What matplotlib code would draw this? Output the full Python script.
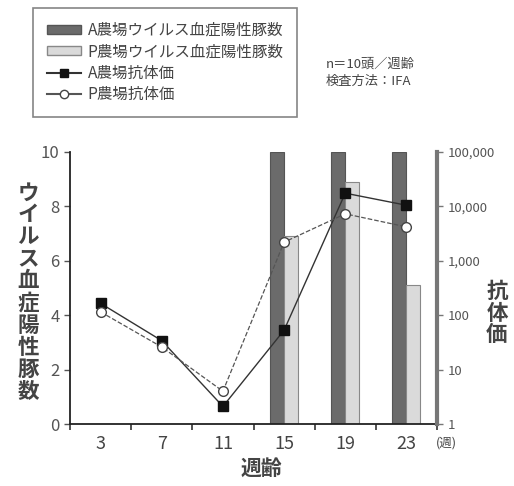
import matplotlib
matplotlib.use('Agg')
import matplotlib.pyplot as plt
from matplotlib.patches import Patch
from matplotlib.lines import Line2D
from matplotlib.ticker import FixedLocator, FuncFormatter
import numpy as np

plt.rcParams['font.family'] = ['Noto Sans CJK JP', 'DejaVu Sans']
plt.rcParams['text.color'] = '#444444'

# データ
weeks = ['3', '7', '11', '15', '19', '23']
a_viremia = [0, 0, 0, 10, 10, 10]        # A農場ウイルス血症陽性豚数
p_viremia = [0, 0, 0, 6.9, 8.9, 5.1]     # P農場ウイルス血症陽性豚数
a_titer = [165, 34, 2.1, 53, 17500, 10500]   # A農場抗体価
p_titer = [115, 26, 4, 2200, 7300, 4200]     # P農場抗体価
titer_ticks = [1, 10, 100, 1000, 10000, 100000]

fig = plt.figure(figsize=(5.14, 4.86), dpi=100)
ax = fig.add_axes([70 / 514, 62 / 486, 367 / 514, 272 / 486])
ax2 = ax.twinx()

x = np.arange(len(weeks))
w = 0.23
ax.bar(x - w / 2, a_viremia, w, color='#6b6b6b', edgecolor='#555555', linewidth=0.8)
ax.bar(x + w / 2, p_viremia, w, color='#dadada', edgecolor='#888888', linewidth=0.8)

ax2.plot(x, a_titer, '-', color='#333333', lw=1.0, marker='s', ms=7,
         mfc='#111111', mec='#111111')
ax2.plot(x, p_titer, '--', color='#555555', lw=0.9, marker='o', ms=7,
         mfc='white', mec='#444444', mew=1.0)

ax.set_xlim(-0.5, len(weeks) - 0.5)
ax.set_ylim(0, 10)
ax.set_yticks([0, 2, 4, 6, 8, 10])
ax2.set_yscale('log')
ax2.set_ylim(1, 100000)
ax2.yaxis.set_major_locator(FixedLocator(titer_ticks))
ax2.yaxis.set_minor_locator(FixedLocator([]))
ax2.yaxis.set_major_formatter(FuncFormatter(lambda v, p: '{:,}'.format(int(round(v)))))

ax.set_xticks(x)
ax.set_xticklabels(weeks)
ax.set_xticks(np.arange(-0.5, len(weeks)), minor=True)
ax.tick_params(axis='x', which='major', length=0, labelsize=13, pad=8, labelcolor='#444444')
ax.tick_params(axis='x', which='minor', length=4, width=1.2, direction='out', color='#333333')
ax.tick_params(axis='y', length=4, width=1, color='#555555', labelsize=12, labelcolor='#555555')
ax2.tick_params(axis='y', length=4, width=1, color='#777777', labelsize=9.5, labelcolor='#555555')

for s in ['top', 'right']:
    ax.spines[s].set_visible(False)
for s in ['top', 'left', 'bottom']:
    ax2.spines[s].set_visible(False)
ax.spines['left'].set_linewidth(1.3)
ax.spines['bottom'].set_linewidth(1.3)
ax.spines['left'].set_color('#222222')
ax.spines['bottom'].set_color('#222222')
ax2.spines['right'].set_linewidth(3)
ax2.spines['right'].set_color('#777777')

# 軸ラベル（縦書き）
fig.text(28 / 514, 1 - 292 / 486, '\n'.join('ウイルス血症陽性豚数'), ha='center', va='center',
         fontsize=15.5, fontweight='bold', linespacing=1.06, color='#444444')
fig.text(497 / 514, 1 - 313 / 486, '\n'.join('抗体価'), ha='center', va='center',
         fontsize=15.5, fontweight='bold', linespacing=1.02, color='#444444')
fig.text(261 / 514, 1 - 468 / 486, '週齢', ha='center', va='center',
         fontsize=15, fontweight='bold', color='#444444')
fig.text(446 / 514, 1 - 443 / 486, '(週)', ha='center', va='center',
         fontsize=9, color='#444444')

fig.text(326 / 514, 1 - 64 / 486, 'n＝10頭／週齢', ha='left', va='center',
         fontsize=9.5, color='#444444')
fig.text(326 / 514, 1 - 81 / 486, '検査方法：IFA', ha='left', va='center',
         fontsize=9.5, color='#444444')

handles = [
    Patch(facecolor='#6b6b6b', edgecolor='#555555'),
    Patch(facecolor='#dadada', edgecolor='#888888'),
    Line2D([], [], color='#333333', marker='s', mfc='#111111', mec='#111111', ms=6),
    Line2D([], [], color='#555555', marker='o', mfc='white', mec='#444444', ms=6),
]
labels = ['A農場ウイルス血症陽性豚数', 'P農場ウイルス血症陽性豚数', 'A農場抗体価', 'P農場抗体価']
leg = fig.legend(handles, labels, loc='upper left', bbox_to_anchor=(33 / 514, 1 - 8 / 486),
                 fontsize=11.2, frameon=True, fancybox=False, edgecolor='#666666',
                 handlelength=2.2, handleheight=0.5, labelspacing=0.28,
                 borderpad=0.9, handletextpad=0.4, borderaxespad=0)
leg.get_frame().set_linewidth(1.2)
for t in leg.get_texts():
    t.set_color('#444444')

fig.savefig('out.png', dpi=100, facecolor='white')
